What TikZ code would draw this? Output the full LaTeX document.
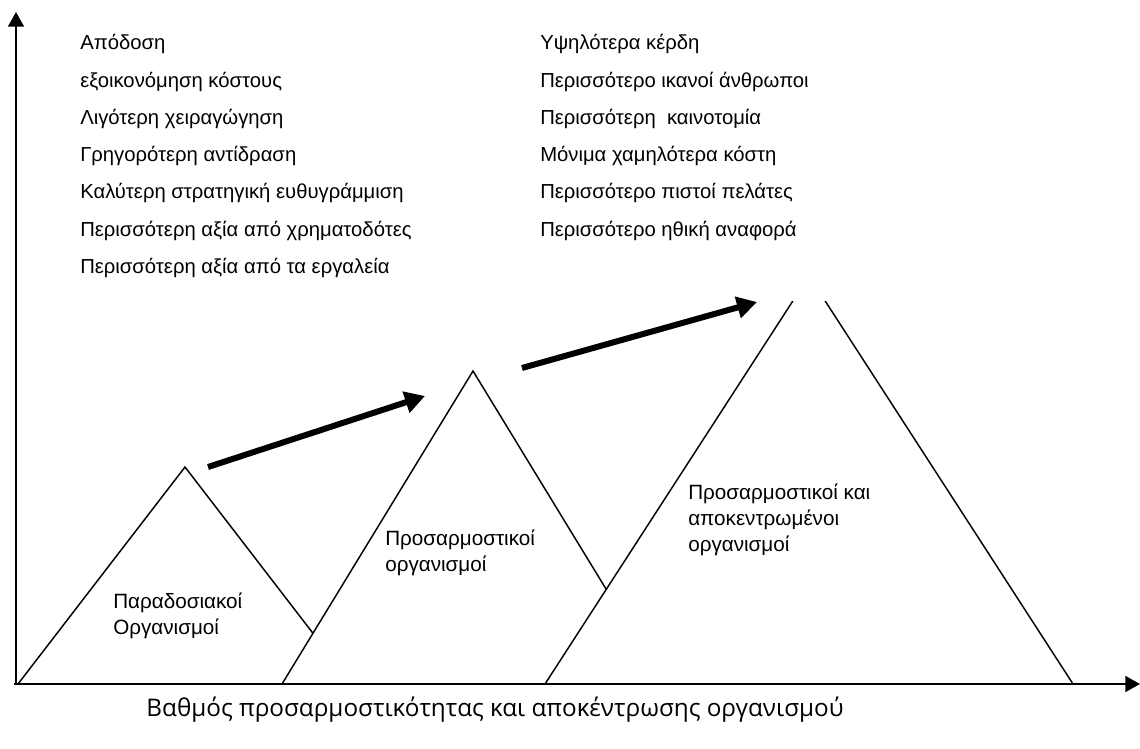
\documentclass[tikz,border=0pt]{standalone}
\usepackage{fontspec}
\setmainfont{Liberation Sans}
\newfontfamily\captionfont{Open Sans}
\usetikzlibrary{arrows.meta, positioning}

\begin{document}
\begin{tikzpicture}[
  x=0.75pt, y=-0.75pt,
  axis/.style={line width=1.1pt, -{Triangle[length=11pt, width=12pt]}},
  peak/.style={line width=1.1pt, fill=white},
  growth/.style={line width=4.5pt, -{Triangle[length=15pt, width=16pt]}},
  item/.style={anchor=west, inner sep=0pt, font=\fontsize{15.2}{18}\selectfont,
               text height=11pt, text depth=3.5pt},
  label/.style={anchor=west, inner sep=0pt, align=left,
                font=\fontsize{15.5}{19.5}\selectfont},
  node distance=13pt
]
\useasboundingbox (0,0) rectangle (1140,749);

% pyramids, drawn from left to right so each one covers the previous
\draw[peak] (18,684) -- (185,467) -- (352,684);
\draw[peak] (282,684) -- (473,371) -- (664,684);
\begin{scope}
  \clip (0,301) rectangle (1140,749);
  \draw[peak] (545,684) -- (809,276) -- (1073,684);
\end{scope}

% axes
\coordinate (origin) at (16,684);
\coordinate (ytop) at (16,12);
\coordinate (xend) at (1140,684);
\draw[axis] (origin) -- (ytop);
\draw[axis] (14,684) -- (xend);

% growth arrows
\coordinate (g1s) at (208,467);
\coordinate (g1e) at (425,396);
\coordinate (g2s) at (522,368);
\coordinate (g2e) at (757,302);
\draw[growth] (g1s) -- (g1e);
\draw[growth] (g2s) -- (g2e);

% benefits, left column
\node[item] (ben1) at (80,45) {Απόδοση};
\node[item, below=of ben1.south west, anchor=north west] (ben2) {εξοικονόμηση κόστους};
\node[item, below=of ben2.south west, anchor=north west] (ben3) {Λιγότερη χειραγώγηση};
\node[item, below=of ben3.south west, anchor=north west] (ben4) {Γρηγορότερη αντίδραση};
\node[item, below=of ben4.south west, anchor=north west] (ben5) {Καλύτερη στρατηγική ευθυγράμμιση};
\node[item, below=of ben5.south west, anchor=north west] (ben6) {Περισσότερη αξία από χρηματοδότες};
\node[item, below=of ben6.south west, anchor=north west] (ben7) {Περισσότερη αξία από τα εργαλεία};

% benefits, right column
\node[item] (gain1) at (540,45) {Υψηλότερα κέρδη};
\node[item, below=of gain1.south west, anchor=north west] (gain2) {Περισσότερο ικανοί άνθρωποι};
\node[item, below=of gain2.south west, anchor=north west] (gain3) {Περισσότερη\ \ καινοτομία};
\node[item, below=of gain3.south west, anchor=north west] (gain4) {Μόνιμα χαμηλότερα κόστη};
\node[item, below=of gain4.south west, anchor=north west] (gain5) {Περισσότερο πιστοί πελάτες};
\node[item, below=of gain5.south west, anchor=north west] (gain6) {Περισσότερο ηθική αναφορά};

% pyramid labels
\node[label] (trad) at (113,616) {Παραδοσιακοί\\Οργανισμοί};
\node[label] (adapt) at (385,553) {Προσαρμοστικοί\\οργανισμοί};
\node[label] (decent) at (688,520) {Προσαρμοστικοί και\\αποκεντρωμένοι\\οργανισμοί};

% axis caption
\node[font=\captionfont\fontsize{18.2}{20}\selectfont] (xcap) at (495,710)
  {Βαθμός προσαρμοστικότητας και αποκέντρωσης οργανισμού};

\end{tikzpicture}
\end{document}
